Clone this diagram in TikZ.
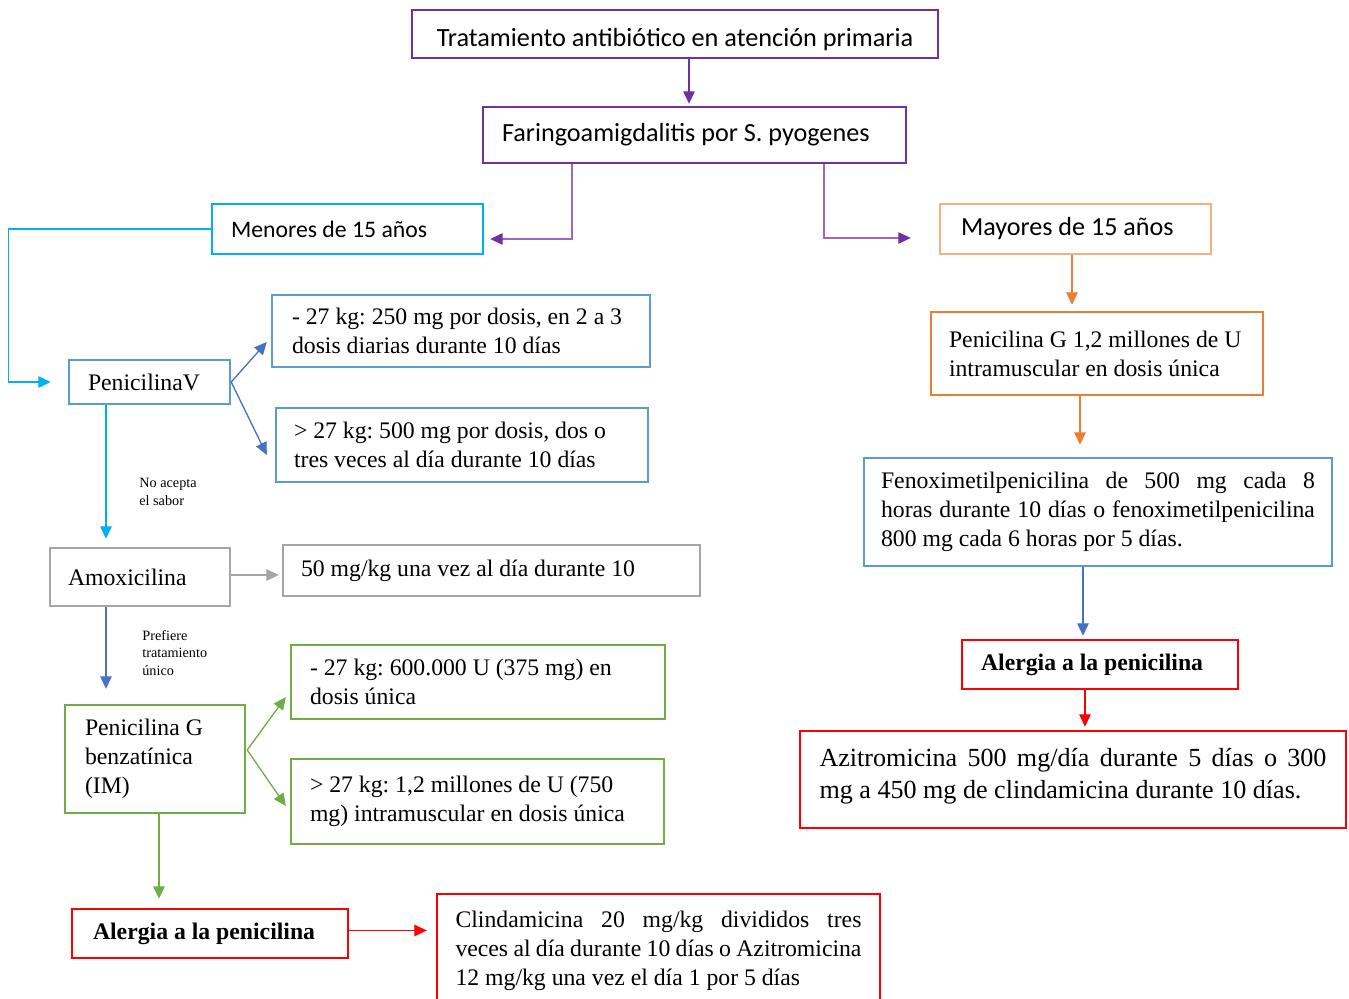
\documentclass[tikz,border=0pt]{standalone}
\usepackage{fontspec}
\setmainfont{Liberation Serif}
\newfontfamily\calib{Carlito}
\usetikzlibrary{arrows.meta,calc}
\definecolor{pur}{HTML}{7030A0}
\definecolor{lpur}{HTML}{9A66C8}
\definecolor{cya}{HTML}{00B0F0}
\definecolor{bbox}{HTML}{5B9BD5}
\definecolor{barr}{HTML}{4472C4}
\definecolor{gry}{HTML}{A5A5A5}
\definecolor{grn}{HTML}{70AD47}
\definecolor{rd}{HTML}{FF0000}
\definecolor{org}{HTML}{ED7D31}
\definecolor{lorg}{HTML}{F4B183}
\newcommand{\ns}{\spaceskip=0pt\xspaceskip=0pt\relax}
\begin{document}
\begin{tikzpicture}[x=0.02cm,y=-0.02cm,
 bx/.style={draw,line width=1.4pt,inner ysep=0pt,align=left,font=\frenchspacing\fontsize{13.5}{16.4}\selectfont},
 sbx/.style={bx},
 jbx/.style={bx,align=justify},
 conn/.style={line width=0.75pt,-{Triangle[length=0.25cm,width=0.23cm]}},
 pconn/.style={line width=0.75pt,lpur,-{Triangle[length=0.25cm,width=0.23cm,color=pur]}},
 lab/.style={anchor=west,align=left,inner sep=0pt,font=\fontsize{8.1}{10.2}\selectfont}]
\useasboundingbox (0,0) rectangle (1349,998);

% nodes
\node[sbx,pur,text=black,align=center,minimum width=10.52cm,minimum height=0.96cm,text height=0.6cm,font=\calib\fontsize{14.95}{17.5}\selectfont] (top) at (675,34) {\ns Tratamiento antibiótico en atención primaria};
\node[sbx,pur,text=black,text width=7.7cm,inner xsep=0.38cm,minimum height=1.12cm,font=\calib\fontsize{14.9}{17}\selectfont] (far) at (694.5,135) {\ns\mbox{Faringoamigdalitis por S. pyogenes}};
\node[sbx,cya,text=black,text width=4.66cm,inner xsep=0.38cm,minimum height=1.0cm,font=\calib\fontsize{13.5}{15.6}\selectfont] (men) at (347.5,229) {\ns\mbox{Menores de 15 años}};
\node[sbx,lorg,text=black,text width=4.58cm,inner xsep=0.42cm,minimum height=1.0cm,font=\calib\fontsize{14.85}{16.6}\selectfont] (may) at (1075.5,229) {\ns\mbox{Mayores de 15 años}};

\node[bx,bbox,text=black,text width=2.46cm,inner xsep=0.38cm,minimum height=0.88cm] (penv) at (149.5,382) {PenicilinaV};
\node[bx,bbox,text=black,text width=6.76cm,inner xsep=0.4cm,minimum height=1.44cm] (b1) at (461,331) {\ns\mbox{- 27 kg: 250 mg por dosis, en 2 a 3}\\\mbox{dosis diarias durante 10 días}};
\node[bx,bbox,text=black,text width=6.72cm,inner xsep=0.36cm,minimum height=1.48cm] (b2) at (462,445) {\ns\mbox{> 27 kg: 500 mg por dosis, dos o}\\\mbox{tres veces al día durante 10 días}};

\node[bx,gry,text=black,text width=2.88cm,inner xsep=0.36cm,minimum height=1.16cm] (amox) at (140,577) {Amoxicilina};
\node[bx,gry,text=black,text width=7.62cm,inner xsep=0.36cm,minimum height=1.02cm] (b3) at (491.5,570.5) {\ns\mbox{50 mg/kg una vez al día durante 10}};

\node[bx,grn,text=black,text width=2.8cm,inner xsep=0.4cm,minimum height=2.16cm] (pg) at (155,759) {\ns Penicilina G\\benzatínica\\(IM)};
\node[bx,grn,text=black,text width=6.72cm,inner xsep=0.38cm,minimum height=1.48cm] (g1) at (478,682) {\ns\mbox{- 27 kg: 600.000 U (375 mg) en}\\\mbox{dosis única}};
\node[bx,grn,text=black,text width=6.7cm,inner xsep=0.38cm,minimum height=1.7cm] (g2) at (477.5,801.5) {\ns\mbox{> 27 kg: 1,2 millones de U (750}\\\mbox{mg) intramuscular en dosis única}};

\node[bx,rd,text=black,text width=4.68cm,inner xsep=0.42cm,minimum height=0.98cm] (al1) at (210,933.5) {\ns\bfseries Alergia a la penicilina};
\node[jbx,rd,text=black,text width=8.12cm,inner xsep=0.37cm,minimum height=2.28cm] (cl) at (658.5,951) {\ns Clindamicina 20 mg/kg divididos tres\linebreak veces al día durante 10 días o Azitromicina\linebreak 12 mg/kg una vez el día 1 por 5 días};

\node[bx,org,text=black,text width=5.92cm,inner xsep=0.36cm,minimum height=1.66cm] (pgr) at (1097,353.5) {\ns\mbox{Penicilina G 1,2 millones de U}\\\mbox{intramuscular en dosis única}};
\node[jbx,bbox,text=black,text width=8.68cm,inner xsep=0.34cm,minimum height=2.16cm] (feno) at (1098,512) {\ns Fenoximetilpenicilina de 500 mg cada 8\linebreak horas durante 10 días o fenoximetilpenicilina\linebreak 800 mg cada 6 horas por 5 días.};
\node[bx,rd,text=black,text width=4.76cm,inner xsep=0.38cm,minimum height=0.98cm] (al2) at (1100,664.5) {\ns\bfseries Alergia a la penicilina};
\node[jbx,rd,text=black,text width=10.14cm,inner xsep=0.39cm,minimum height=1.94cm,text depth=0.88cm,font=\frenchspacing\fontsize{14.85}{18.1}\selectfont] (az) at (1073,779.5) {\ns Azitromicina 500 mg/día durante 5 días o 300\linebreak mg a 450 mg de clindamicina durante 10 días.};

% labels
\node[lab] (lab1) at (139,492) {No acepta\\el sabor};
\node[lab] (lab2) at (142,653) {Prefiere\\tratamiento\\único};

% connectors
\coordinate (c1) at ($(top.south)+(14,0)$);
\draw[conn,pur,shorten >=0.04cm] (c1) -- (c1 |- far.north);

\coordinate (c2) at ($(far.south)+(-122.5,0)$);
\coordinate (c2e) at ($(men.east)+(6,10)$);
\draw[pconn] (c2) |- (c2e);

\coordinate (c3) at ($(far.south)+(129.5,0)$);
\coordinate (c3e) at ($(may.west)+(-28,9)$);
\draw[pconn] (c3) |- (c3e);

\coordinate (c4) at ($(men.west)+(-202,0)$);
\coordinate (c4e) at ($(penv.west)+(-17,0)$);
\draw[conn,cya] (men.west) -- (c4) |- (c4e);

\draw[conn,barr] (penv.east) -- ($(b1.west)+(-4,11)$);
\draw[conn,barr] (penv.east) -- ($(b2.west)+(-8,10)$);

\coordinate (c5) at ($(penv.south)+(-43.5,0)$);
\draw[conn,cya,shorten >=0.16cm] (c5) -- (c5 |- amox.north);

\coordinate (c5b) at ($(amox.east)+(0,-2)$);
\draw[conn,gry,shorten >=0.06cm] (c5b) -- (c5b -| b3.west);

\coordinate (c6) at ($(amox.south)+(-34,0)$);
\draw[conn,barr,shorten >=0.3cm] (c6) -- (c6 |- pg.north);

\coordinate (c7) at ($(pg.east)+(1,-9)$);
\draw[conn,grn] (c7) -- ($(g1.west)+(-4,15)$);
\draw[conn,grn] (c7) -- ($(g2.west)+(-4,4.5)$);

\coordinate (c8) at ($(pg.south)+(4,0)$);
\draw[conn,grn,shorten >=0.18cm] (c8) -- (c8 |- al1.north);

\coordinate (c8b) at ($(al1.east)+(0,-3)$);
\draw[conn,rd,shorten >=0.18cm] (c8b) -- (c8b -| cl.west);

\coordinate (c9) at ($(may.south)+(-3.5,0)$);
\draw[conn,org,shorten >=0.12cm] (c9) -- (c9 |- pgr.north);

\coordinate (c10) at ($(pgr.south)+(-17,0)$);
\draw[conn,org,shorten >=0.24cm] (c10) -- (c10 |- feno.north);

\coordinate (c11) at ($(feno.south)+(-15,0)$);
\draw[conn,barr,shorten >=0.06cm] (c11) -- (c11 |- al2.north);

\coordinate (c12) at ($(al2.south)+(-15,0)$);
\draw[conn,rd,shorten >=0.06cm] (c12) -- (c12 |- az.north);
\end{tikzpicture}
\end{document}
